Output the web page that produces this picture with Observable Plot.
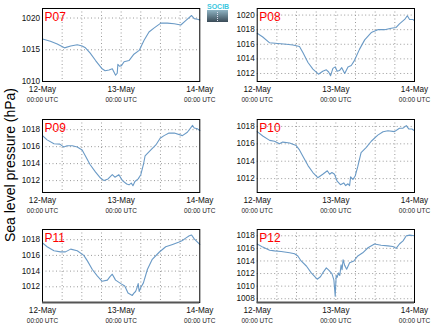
<!DOCTYPE html>
<html><head><meta charset="utf-8">
<script src="https://cdn.jsdelivr.net/npm/d3@7"></script>
<script src="https://cdn.jsdelivr.net/npm/@observablehq/plot@0.6"></script>
<style>
body{margin:0;background:#fff;}
#chart{position:relative;width:434px;height:327px;font-family:"Liberation Sans",Arial,sans-serif;overflow:hidden;background:#fff}
.panel{position:absolute}
.panel svg{overflow:visible}
#ylab{position:absolute;left:10px;top:165px;transform:translate(-50%,-50%) rotate(-90deg);font-size:14px;white-space:nowrap;color:#000}
#logo{position:absolute;left:207px;top:3px;width:21px;height:19px}
#logo .t{font-size:7px;line-height:7px;color:#3cc8e0;text-align:center;letter-spacing:0px;font-weight:bold}
#logo .b{height:12px;background:linear-gradient(#8fb4c4,#3a4b57);position:relative}
#logo .b:after{content:"";position:absolute;left:10px;top:2px;height:9px;border-left:1px dotted #dde}
</style></head><body><div id="chart"><div id="ylab">Sea level pressure (hPa)</div><div id="logo"><div class="t">SOCIB</div><div class="b"></div></div></div>
<script>
const stations = ["P07","P08","P09","P10","P11","P12"];
const dayLabels = ["12-May","13-May","14-May"];
const timeLabel = "00:00 UTC";

// hours since 12-May 00:00 UTC, sea level pressure (hPa)
const hoursP07 = [0,2.4,4.5,6.7,8.6,10.6,12.1,13.1,14.5,16.2,18.2,19.1,20.3,21.3,21.8,22.3,22.8,23.0,23.5,24.1,24.9,26.4,27.9,29.5,31.0,32.5,34.0,36.1,38.1,40.2,42.2,43.7,45.5,46.3,47.3,48];
const presP07  = [1016.7,1016.35,1015.9,1015.3,1015.6,1015.8,1015.6,1015.3,1014.5,1013.3,1012.0,1011.7,1011.8,1012.0,1011.5,1011.0,1011.3,1012.7,1012.4,1012.5,1013.1,1013.3,1014.3,1014.9,1016.5,1017.8,1018.4,1019.2,1019.2,1019.1,1018.9,1019.6,1020.4,1019.9,1019.8,1019.7];

const hoursP08 = [0,1.7,3.8,6.3,8.9,10.9,12.9,13.9,15.5,17.0,18.7,20.0,21.1,21.8,22.4,23.1,23.8,24.4,25.1,25.8,26.7,27.7,28.7,29.7,31.2,32.8,34.8,36.8,38.9,40.9,42.4,43.4,45.0,45.8,46.5,47.5,48];
const presP08  = [1017.5,1017.0,1016.2,1016.1,1016.0,1015.9,1015.7,1014.9,1013.5,1012.6,1011.9,1012.3,1012.5,1012.2,1011.7,1012.7,1012.9,1012.3,1012.4,1012.8,1012.0,1012.9,1013.1,1013.8,1015.3,1016.6,1017.6,1018.0,1018.0,1018.2,1018.3,1018.8,1019.4,1019.9,1019.4,1019.4,1019.2];

const hoursP09 = [0,1.4,3.5,5.3,6.5,7.5,9.1,10.6,12.1,13.1,14.5,16.2,17.7,18.8,20.0,21.3,22.1,23.3,24.4,25.7,26.4,27.1,27.6,28.2,29.2,30.0,30.8,31.3,33.0,34.6,35.9,37.1,38.6,40.2,42.7,44.2,45.8,46.3,47.3,48];
const presP09  = [1017.3,1016.8,1016.35,1016.3,1015.95,1016.1,1016.1,1015.95,1015.6,1014.9,1013.9,1013.0,1012.3,1012.0,1012.2,1012.7,1012.4,1012.7,1012.0,1011.6,1011.5,1011.7,1011.4,1011.9,1012.2,1012.7,1013.9,1014.9,1015.6,1016.2,1017.0,1017.3,1017.6,1017.6,1017.3,1017.7,1018.5,1018.2,1018.1,1017.9];

const hoursP10 = [0,1.7,3.8,5.3,6.8,7.8,9.9,11.9,12.9,13.9,15.5,17.0,18.5,20.0,21.4,22.1,22.8,23.6,24.4,25.4,26.4,27.0,27.7,28.2,28.5,29.2,29.9,30.7,31.7,33.3,34.8,36.8,38.4,39.9,41.9,43.4,44.5,45.5,46.3,47.2,48];
const presP10  = [1017.4,1016.9,1016.4,1016.3,1016.0,1016.2,1016.1,1015.8,1015.3,1014.6,1013.5,1012.7,1012.1,1012.5,1012.9,1012.5,1012.7,1012.5,1011.7,1011.3,1011.5,1011.2,1011.4,1011.2,1012.2,1011.9,1012.3,1013.4,1015.0,1015.6,1016.3,1017.0,1017.4,1017.5,1017.4,1017.8,1017.8,1018.1,1017.7,1017.7,1017.5];

const hoursP11 = [0,1.4,3.5,5.5,7.0,8.6,10.6,12.6,13.7,15.2,16.7,18.2,19.8,20.6,21.3,22.3,23.9,25.1,26.1,27.4,27.9,28.4,28.7,29.2,29.5,30.0,30.8,32.0,33.5,35.6,37.6,39.7,41.7,42.7,43.7,44.8,45.5,46.3,47.3,48];
const presP11  = [1017.6,1017.1,1016.6,1016.45,1016.45,1016.8,1016.6,1016.0,1015.3,1014.2,1013.4,1012.7,1012.85,1013.3,1013.6,1012.85,1012.4,1012.1,1011.2,1010.9,1011.2,1011.4,1011.7,1012.4,1011.4,1011.9,1012.5,1014.2,1015.5,1016.4,1017.1,1017.4,1017.7,1017.9,1018.2,1018.5,1018.6,1018.1,1017.7,1017.4];

const hoursP12 = [0,1.7,3.8,5.3,7.3,9.9,11.4,12.4,13.4,15.0,16.5,18.3,19.3,20.0,21.1,21.9,22.8,23.4,23.8,24.1,24.4,24.8,25.2,25.6,25.9,26.2,26.7,27.3,28.2,29.5,30.7,32.2,33.8,35.8,37.8,39.9,41.4,42.4,43.4,44.5,45.5,46.5,48];
const presP12  = [1016.7,1016.2,1015.7,1015.6,1015.5,1015.3,1015.15,1014.8,1014.0,1013.2,1012.1,1011.1,1011.5,1012.1,1012.9,1012.5,1012.0,1011.0,1008.4,1011.7,1011.4,1012.1,1011.7,1013.4,1012.6,1014.2,1013.3,1012.7,1013.7,1014.0,1014.8,1015.3,1016.1,1016.7,1016.5,1016.4,1016.3,1016.0,1016.7,1017.2,1018.0,1018.1,1018.0];

const yDomains = [[1010,1021.5],[1010.9,1020.9],[1010.6,1019.2],[1010.4,1018.8],[1010.0,1019.3],[1007.4,1019.0]];
const yTicks = [[1010,1015,1020],[1012,1014,1016,1018,1020],[1012,1014,1016,1018],[1012,1014,1016,1018],[1012,1014,1016,1018],[1008,1010,1012,1014,1016,1018]];
const dayTicks = [0,24,48];
const gridHours = [6,12,18,24,30,36,42];

const hoursAll = [hoursP07,hoursP08,hoursP09,hoursP10,hoursP11,hoursP12];
const presAll = [presP07,presP08,presP09,presP10,presP11,presP12];

const chart = document.getElementById("chart");
const rowTops = [7.5, 118.5, 229];
const colLefts = [0, 214];
const mLeft = [42, 42.7];
const plotW = 157.3, plotH = 73, mTop = 8, mBottom = 26, mRight = 20;

stations.forEach((name, i) => {
  const row = Math.floor(i / 2), col = i % 2;
  const data = hoursAll[i].map((h, j) => ({h, p: presAll[i][j]}));
  const marks = [
    Plot.gridX(gridHours, {stroke: "#9a9a9a", strokeOpacity: 1, strokeDasharray: "1,2.5"}),
    Plot.gridY(yTicks[i], {stroke: "#9a9a9a", strokeOpacity: 1, strokeDasharray: "1,2.5"}),
    Plot.line(data, {x: "h", y: "p", stroke: "#6a9ac6", strokeWidth: 1.1}),
    Plot.frame({stroke: "#000", strokeWidth: 1}),
    Plot.axisY(yTicks[i], {label: null, tickSize: 0, tickPadding: 2.5, fontSize: 8.2, fill: "#111", tickFormat: d => String(d)}),
    Plot.axisX(dayTicks, {label: null, tickSize: 0, tickPadding: 5, fontSize: 8.2, fill: "#111", tickFormat: d => dayLabels[d / 24]}),
    Plot.axisX(dayTicks, {label: null, tickSize: 0, tickPadding: 15.5, fontSize: 6.5, fill: "#222", tickFormat: () => timeLabel}),
    Plot.text([name], {frameAnchor: "top-left", dx: 2, dy: 3.5, fill: "#ff0000", fontSize: 12, text: d => d})
  ];
  if (row === 2) marks.push(Plot.ruleY([yDomains[i][0]], {stroke: "#555", strokeWidth: 2}));
  const p = Plot.plot({
    width: mLeft[col] + plotW + mRight,
    height: mTop + plotH + mBottom,
    marginLeft: mLeft[col], marginRight: mRight, marginTop: mTop, marginBottom: mBottom,
    style: {fontFamily: '"Liberation Sans", Arial, sans-serif', background: "transparent", overflow: "visible"},
    x: {domain: [0, 48], axis: null},
    y: {domain: yDomains[i], axis: null},
    marks
  });
  const wrap = document.createElement("div");
  wrap.className = "panel";
  wrap.style.left = colLefts[col] + "px";
  wrap.style.top = (rowTops[row] - mTop) + "px";
  wrap.appendChild(p);
  chart.appendChild(wrap);
});
</script></body></html>
